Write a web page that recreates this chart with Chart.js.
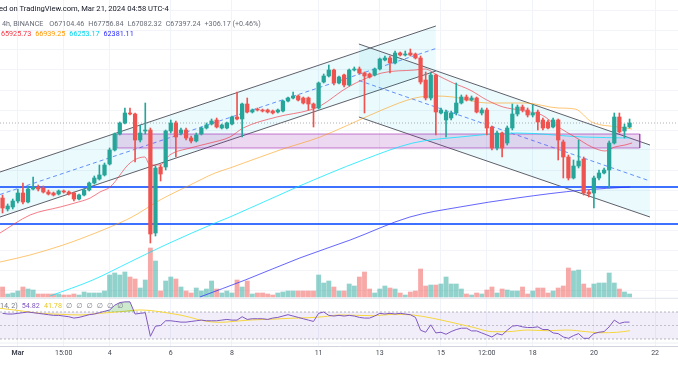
<!DOCTYPE html>
<html><head><meta charset="utf-8">
<script src="https://cdn.jsdelivr.net/npm/chart.js@4.4.1/dist/chart.umd.min.js"></script>
<style>
html,body{margin:0;padding:0;background:#fff;}
#wrap{position:relative;width:678px;height:381px;overflow:hidden;font-family:Roboto,"DejaVu Sans",sans-serif;}
#c{position:absolute;left:0;top:0;}
.t{position:absolute;white-space:nowrap;line-height:1;}
.t span{margin-right:4px;}
</style></head><body>
<div id="wrap">
<canvas id="c" width="678" height="381"></canvas>
<div class="t" style="left:-1px;top:5px;font-size:7.6px;color:#131722">ed on TradingView.com, Mar 21, 2024 04:58 UTC-4</div>
<div class="t" id="ohlc" style="left:2px;top:20px;font-size:7.2px;color:#6a6d78"></div>
<div class="t" id="maleg" style="left:1px;top:30px;font-size:7.2px"></div>
<div class="t" id="rsileg" style="left:0px;top:302px;font-size:7.2px;color:#787b86"></div>
</div>
<script>
// ---------- data ----------
const TICK_IDX = [3, 12, 21, 33, 45, 62, 74, 86, 95, 104, 116, 128];
const TICK_TXT = ['Mar', '15:00', '4', '6', '8', '11', '13', '15', '12:00', '18', '20', '22'];

const OPEN = [61160,60280,60440,60920,61560,60840,61880,62040,61960,61640,
61560,61480,61720,61640,61560,61080,61400,61800,62360,62680,
63000,63880,65000,66280,67160,67960,67880,65800,66520,66600,
58360,63640,63640,66520,67160,66360,66600,65960,65720,66280,
66760,67080,67400,66760,66760,67080,67640,67480,68680,68040,
68280,68200,68200,68120,68040,68120,68920,69160,69320,69160,
69160,68680,68360,70440,70920,71400,70360,71000,70200,71400,
71480,71160,71080,71000,71480,72200,72360,71960,72760,72600,
72760,72680,72360,70600,69160,71000,67960,67400,67560,67960,
68760,69240,69000,69160,67960,68200,66840,65160,66360,65560,
66760,67880,68440,68200,67800,68040,67400,67240,66840,67400,
65640,64440,62760,63720,64280,61640,61560,62760,63160,63400,
65560,67640,66520,66840];
const HIGH = [61400,60680,61080,61880,62360,62120,62840,62200,62120,61800,
61640,61800,61800,61720,61640,61480,61880,62440,62920,63800,
63960,65160,66360,67240,68360,68360,67960,67000,68760,66760,
63720,63800,66600,67400,67320,66760,66760,66120,66360,66840,
67160,67480,67560,67080,67240,67720,69640,68760,69160,68280,
68360,68280,68280,68200,68280,69000,69240,69640,69400,69240,
69240,68760,70440,71080,71800,71480,70920,71080,71480,71640,
71640,71240,71160,71560,72360,72520,72520,72920,72840,72920,
73080,72760,72520,71240,71160,71080,68360,68200,68120,70360,
69400,69400,69320,69240,68360,68360,66920,66520,66440,66920,
68680,68600,68600,68360,68600,68200,67560,67400,67560,67480,
65800,64600,64200,65800,64440,61800,62920,63400,63560,65720,
67960,67960,67080,67480];
const LOW = [59960,60120,60280,60760,60680,60760,61800,61720,61560,61400,
61320,61400,61560,61400,60920,61000,61320,61720,62280,62600,
62920,63800,64920,66200,67080,67800,64040,65640,66280,57560,
58120,62520,63400,66360,64440,66200,65800,65560,65640,66200,
66680,67000,66760,66680,66680,67000,67400,66040,67960,67960,
68120,68040,67960,67880,67960,68040,68840,69080,68920,68680,
68200,66840,68280,70360,70840,70200,70280,70040,70120,71320,
71080,67960,70760,70920,71400,72120,71160,71880,72520,72520,
72520,72280,70280,69000,69000,66200,67880,66040,67400,67800,
68680,68920,68920,67960,67800,66200,65000,65000,64440,65400,
66600,67720,68040,67640,67640,66600,66600,66680,66760,64200,
62760,62600,62680,63560,61400,61240,60360,62600,63080,61960,
65480,66360,65960,66760];
const CLOSE = [60360,60520,60920,61560,60840,61880,62040,61880,61640,61480,
61400,61720,61640,61480,61080,61400,61800,62360,62760,63000,
63800,65000,66280,67160,67960,67880,65800,66360,66600,58280,
63560,63080,66520,67160,66040,66600,65960,65720,66200,66760,
67000,67320,66840,67000,67160,67640,67480,68680,68040,68200,
68200,68120,68040,67960,68200,68920,69160,69320,69000,68760,
68680,68360,70360,70920,71400,70360,70840,70200,71400,71480,
71160,70920,70840,71480,72280,72360,71960,72760,72600,72680,
72600,72360,70440,69160,71000,68040,68200,68040,67960,68760,
69240,69000,69160,68040,68200,66760,65160,66360,65160,66760,
67880,68440,68200,67800,67960,67240,66760,66760,67400,65800,
64440,62760,63720,64120,61560,61480,62760,63160,63400,65560,
67640,66440,66840,67160];
// volume, thousands of BTC
const VOLUME = [10,3,4,6,10,8,7,3,3,3, 3,3,2,2,3,2,5,4,4,4,
6,22,24,22,25,20,18,9,17,49, 36,6,16,20,18,10,6,4,9,6,
8,16,8,4,6,4,17,10,16,3, 4,4,3,2,4,5,6,6,6,6,
6,6,22,14,16,10,6,6,13,11, 20,25,8,4,8,11,9,8,4,2,
5,6,28,11,12,12,13,20,13,13, 8,3,2,4,3,7,10,4,8,7,
6,6,10,3,6,9,9,4,6,9, 11,29,26,27,13,9,13,14,14,24,
14,8,5,3];
const RSI = [68,67,67,68,69,70,69,68,67,66, 65,65,64,63,61,62,64,66,67,69,
71,73,80,84,85,85,67,68,69,34, 49,50,57,57,56,55,55,56,57,58,
57,57,57,58,59,58,58,63,59,60, 60,60,59,61,62,64,66,64,62,60,
58,56,68,70,65,64,65,64,65,64, 62,61,61,64,68,67,68,67,68,67,
66,62,43,40,51,39,40,37,41,44, 46,46,42,42,39,36,33,38,36,43,
49,50,48,47,47,48,44,44,39,38, 33,31,35,38,31,31,38,40,41,48,
58,53,55,55];
const RSI_MA_IDX = [-0.5,3.4,7.3,11.3,15.2,19.1,23,27,30.9,32.8,34.8,36.8,38.7,40.7,42.7,44.6,48.5,52.5,56.4,60.3,62.9,66.2,72.7,76.6,80.5,84.4,88.4,92.3,96.2,99,102.9,106.8,110.7,114.6,117.2,120.5,123.1];
const RSI_MA_VAL = [75.5,71.9,68.1,66.6,65.6,68.1,70.4,73,70.4,68.1,65.6,62.1,58.1,55.6,54.7,55.6,58.1,59.2,60.7,61.6,63,65.6,64.5,66.6,65.6,60.7,54.1,47.3,40.8,40.8,43.3,42.3,43.3,40.8,39.3,39.9,42.3];
const RSI_LEVELS = [70, 50, 30];

const MA20_IDX = [-0.5,5.4,11.3,14.2,17.2,19.1,21.1,25,27.9,28.9,30.9,32.8,36.8,40.7,44.6,47.2,53.8,60.3,62.3,67.8,74.4,80.9,82.9,85.2,88.4,91.7,95,98.2,101.5,103.5,105.8,109,112.3,115.6,118.2,120.1,122.1,123.5];
const MA20_VAL = [58360,59800,60440,60760,61160,61640,62040,63960,64440,63800,63800,64600,65160,65560,66040,66760,67640,68200,68520,70040,71160,71400,71480,71000,70360,69800,69000,68440,68200,68040,67800,66840,66040,65240,64920,65240,65400,65560];
const MA50_IDX = [-0.5,5.4,11.9,15.2,21.1,25.4,30.9,36.8,41.7,44.6,54.4,62.3,67.8,74.4,80.9,84.8,88.4,95,102.5,109,112.3,115.6,120.7,123.5];
const MA50_VAL = [56040,56600,57400,57880,58840,59640,61000,62200,63160,63560,65000,66040,67000,68200,69160,69320,69240,68760,68760,68360,68280,67240,66840,66680];
const MA100_IDX = [9.3,17.7,25,31.9,41.7,44.6,57.8,70.7,80.5,89.7,100.9,113.9,123.1];
const MA100_VAL = [53320,54600,56040,57400,59160,59640,62040,64200,65560,66040,66360,66040,65960];
const MA200_IDX = [38.7,47.6,58.3,68.2,79.9,89.7,100.9,113.9,123.1];
const MA200_VAL = [53240,54600,56360,57800,59640,60440,61160,61800,62040];

const LEVELS = [62040, 59080];
const ASC_X = [-0.5, 85], ASC_UP = [63240, 74920], ASC_LO = [59640, 71320], ASC_MID = [61440, 73120];
const DESC_X = [69.9, 127], DESC_UP = [73480, 65400], DESC_LO = [67640, 59640], DESC_MID = [70560, 62520];
const ZONE_X = [22.45, 125], ZONE_Y = [65160, 66280];
const GRID_PRICES = [76200,74600,73000,71400,69800,68200,66600,65000,63400,61800,60200,58600,57000,55400,53800];

const HEADER_OHLC = ['O67104.46', 'H67756.84', 'L67082.32', 'C67397.24', '+306.17 (+0.46%)'];
const MA_LEGEND = ['65925.73', '66939.25', '66253.17', '62381.11'];
const RSI_LEGEND = ['54.82', '41.78'];

// ---------- helpers ----------
const X_MIN = -0.5, X_MAX = 132.5;
const UP = '#26a69a', DN = '#ef5350';
const MA_COL = ['rgba(242,54,69,0.65)', 'rgba(255,152,0,0.55)', 'rgba(0,229,255,0.75)', 'rgba(50,50,255,0.75)'];
const MA_TXT = ['#f23645', '#ff9800', '#00d5ee', '#2a2aff'];
const idx = OPEN.map((_, i) => i);
const isUp = idx.map(i => CLOSE[i] >= OPEN[i]);
const pts = (xs, ys) => xs.map((x, i) => ({x, y: ys[i]}));
const hline = v => [{x: X_MIN, y: v}, {x: X_MAX, y: v}];

// header texts
document.getElementById('ohlc').innerHTML = '<span>4h, BINANCE&nbsp;</span>' + HEADER_OHLC.map(s => '<span>' + s + '</span>').join('');
document.getElementById('maleg').innerHTML = MA_LEGEND.map((s, i) => '<span style="color:' + MA_TXT[i] + '">' + s + '</span>').join('');
document.getElementById('rsileg').innerHTML = '<span>14, 2)</span><span style="color:#7e57c2">' + RSI_LEGEND[0] + '</span><span style="color:#e8c91e">' + RSI_LEGEND[1] + '</span>' + '<span style="letter-spacing:0">∅</span>'.repeat(6);

const line = (o) => Object.assign({type: 'line', pointRadius: 0, borderWidth: 1, fill: false, yAxisID: 'y', tension: 0}, o);

const datasets = [
  // ascending channel
  line({data: pts(ASC_X, ASC_UP), borderColor: '#5d606b', fill: '+1', backgroundColor: 'rgba(0,188,212,0.08)', order: 30}),
  line({data: pts(ASC_X, ASC_LO), borderColor: '#5d606b', order: 29}),
  line({data: pts(ASC_X, ASC_MID), borderColor: 'rgba(41,98,255,0.7)', borderDash: [4, 3], order: 28}),
  // descending channel
  line({data: pts(DESC_X, DESC_UP), borderColor: '#5d606b', fill: '+1', backgroundColor: 'rgba(0,188,212,0.08)', order: 27}),
  line({data: pts(DESC_X, DESC_LO), borderColor: '#5d606b', order: 26}),
  line({data: pts(DESC_X, DESC_MID), borderColor: 'rgba(41,98,255,0.7)', borderDash: [4, 3], order: 25}),
  // zone rectangle
  line({data: [{x: ZONE_X[0], y: ZONE_Y[1]}, {x: ZONE_X[1], y: ZONE_Y[1]}, {x: ZONE_X[1], y: ZONE_Y[0]}, {x: ZONE_X[0], y: ZONE_Y[0]}, {x: ZONE_X[0], y: ZONE_Y[1]}],
        borderColor: 'rgba(156,39,176,0.6)', fill: 'shape', backgroundColor: 'rgba(156,39,176,0.18)', order: 24}),
  // RSI band
  line({data: hline(RSI_LEVELS[0]), yAxisID: 'yRsi', borderColor: 'rgba(120,123,134,0.55)', borderDash: [2, 2], fill: '+1', backgroundColor: 'rgba(126,87,194,0.1)', order: 23}),
  line({data: hline(RSI_LEVELS[2]), yAxisID: 'yRsi', borderColor: 'rgba(120,123,134,0.55)', borderDash: [2, 2], order: 22}),
  line({data: hline(RSI_LEVELS[1]), yAxisID: 'yRsi', borderColor: 'rgba(120,123,134,0.4)', borderDash: [2, 2], order: 22}),
  // volume
  {type: 'bar', yAxisID: 'yVol', data: idx.map(i => ({x: i, y: VOLUME[i]})), grouped: false, barThickness: 4.2,
   backgroundColor: isUp.map(u => u ? 'rgba(38,166,154,0.5)' : 'rgba(239,83,80,0.5)'), borderWidth: 0, order: 21},
  // horizontal levels
  line({data: hline(LEVELS[0]), borderColor: 'rgba(41,98,255,0.9)', borderWidth: 2, order: 20}),
  line({data: hline(LEVELS[1]), borderColor: 'rgba(41,98,255,0.9)', borderWidth: 2, order: 20}),
  // moving averages
  line({data: pts(MA200_IDX, MA200_VAL), borderColor: MA_COL[3], cubicInterpolationMode: 'monotone', order: 19}),
  line({data: pts(MA100_IDX, MA100_VAL), borderColor: MA_COL[2], cubicInterpolationMode: 'monotone', order: 18}),
  line({data: pts(MA50_IDX, MA50_VAL), borderColor: MA_COL[1], cubicInterpolationMode: 'monotone', order: 17}),
  line({data: pts(MA20_IDX, MA20_VAL), borderColor: MA_COL[0], cubicInterpolationMode: 'monotone', order: 16}),
  // last price line
  line({data: hline(CLOSE[CLOSE.length - 1]), borderColor: 'rgba(120,123,134,0.6)', borderDash: [1, 2], order: 15}),
  // RSI
  line({data: pts(RSI_MA_IDX, RSI_MA_VAL), yAxisID: 'yRsi', borderColor: '#f5d63d', cubicInterpolationMode: 'monotone', order: 14}),
  line({data: idx.map(i => ({x: i, y: RSI[i]})), yAxisID: 'yRsi', borderColor: '#7e57c2',
        fill: {target: {value: RSI_LEVELS[0]}, above: 'rgba(76,175,80,0.28)', below: 'rgba(0,0,0,0)'}, order: 13}),
  // pane separators
  line({data: hline(-1.3), yAxisID: 'yVol', borderColor: '#e0e3eb', order: 12}),
  line({data: hline(24), yAxisID: 'yRsi', borderColor: '#eceef2', order: 12}),
  // candles
  {type: 'bar', data: idx.map(i => ({x: i, y: [LOW[i], HIGH[i]]})), grouped: false, barThickness: 1,
   backgroundColor: isUp.map(u => u ? UP : DN), borderWidth: 0, order: 1},
  {type: 'bar', data: idx.map(i => ({x: i, y: [Math.min(OPEN[i], CLOSE[i]), Math.max(OPEN[i], CLOSE[i])]})), grouped: false,
   barThickness: 3.6, minBarLength: 1, backgroundColor: isUp.map(u => u ? UP : DN), borderWidth: 0, order: 0}
];

Chart.defaults.font.family = 'Roboto';
new Chart(document.getElementById('c'), {
  type: 'line',
  data: {datasets},
  options: {
    responsive: false, animation: false, devicePixelRatio: 1,
    layout: {padding: 0},
    plugins: {legend: {display: false}, tooltip: {enabled: false}},
    scales: {
      x: {type: 'linear', min: X_MIN, max: X_MAX, offset: false,
          afterBuildTicks: s => { s.ticks = TICK_IDX.map(v => ({value: v})); },
          afterFit: s => { s.height = 35; },
          ticks: {autoSkip: false, maxRotation: 0, padding: 3, color: '#434651',
                  font: c => ({size: 7, family: 'Roboto', weight: c.index === 0 ? 'bold' : 'normal'}),
                  callback: v => TICK_TXT[TICK_IDX.indexOf(v)]},
          grid: {color: '#f0f3fa', drawTicks: false, offset: false},
          border: {color: '#d1d4dc'}},
      y: {type: 'linear', position: 'right', min: 49320, max: 77000,
          afterBuildTicks: s => { s.ticks = GRID_PRICES.map(v => ({value: v})); },
          afterFit: s => { s.width = 0; },
          ticks: {display: false}, grid: {color: '#f2f4f9', drawTicks: false}, border: {display: false}},
      yVol: {type: 'linear', display: false, min: -49, max: 297},
      yRsi: {type: 'linear', display: false, min: 19.63, max: 532.2}
    }
  }
});
</script>
</body></html>
